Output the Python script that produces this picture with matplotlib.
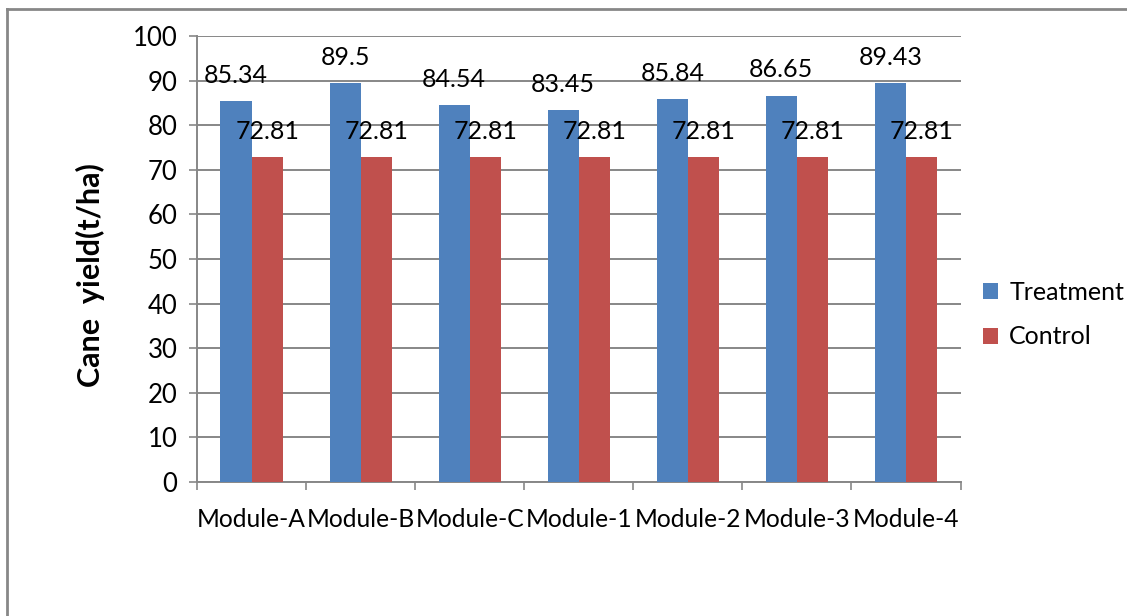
import numpy as np
import matplotlib
matplotlib.use("Agg")
import matplotlib.pyplot as plt
from matplotlib.lines import Line2D

modules = ["Module-A", "Module-B", "Module-C", "Module-1", "Module-2", "Module-3", "Module-4"]
treatment = [85.34, 89.5, 84.54, 83.45, 85.84, 86.65, 89.43]
control = [72.81, 72.81, 72.81, 72.81, 72.81, 72.81, 72.81]
y_ticks = [0, 10, 20, 30, 40, 50, 60, 70, 80, 90, 100]

plt.rcParams["font.family"] = ["Lato", "DejaVu Sans"]
grey = "#878787"
fs = 18

fig = plt.figure(figsize=(11.27, 6.16), dpi=100)
ax = fig.add_axes([197 / 1127, 1 - 482 / 616, (960.5 - 197) / 1127, (482 - 36) / 616])

x = np.arange(len(modules))
w = 0.285
b1 = ax.bar(x - w / 2, treatment, w, color="#4F81BD", label="Treatment", zorder=3)
b2 = ax.bar(x + w / 2, control, w, color="#C0504D", label="Control", zorder=3)

# value labels sit a little above each bar
for bars, vals in ((b1, treatment), (b2, control)):
    for rect, v in zip(bars, vals):
        ax.annotate(f"{v:g}", (rect.get_x() + rect.get_width() / 2, v),
                    xytext=(0, 13), textcoords="offset points",
                    ha="center", va="baseline", fontsize=fs, zorder=4)

ax.set_ylim(0, 100)
ax.set_xlim(-0.5, len(modules) - 0.5)
ax.set_yticks(y_ticks)
ax.yaxis.grid(True, color=grey, linewidth=1.4, zorder=0)
ax.tick_params(axis="y", length=6, width=1.2, color=grey, labelsize=fs + 0.5, pad=8)

# category separators as major ticks, names on minor ticks
ax.set_xticks(np.arange(-0.5, len(modules), 1.0))
ax.set_xticklabels([])
ax.set_xticks(x, minor=True)
ax.set_xticklabels(modules, minor=True, fontsize=fs - 0.3)
ax.tick_params(axis="x", which="major", length=6, width=1.2, color=grey)
ax.tick_params(axis="x", which="minor", length=0, pad=19)

for s in ("top", "right"):
    ax.spines[s].set_visible(False)
for s in ("left", "bottom"):
    ax.spines[s].set_color(grey)
    ax.spines[s].set_linewidth(1.4)

ax.set_ylabel("Cane  yield(t/ha)", fontsize=22, fontweight="bold",
              family=["Liberation Sans Narrow", "Lato", "DejaVu Sans"], labelpad=20)
ax.yaxis.label.set_y(0.465)

ax.legend(loc="center left", bbox_to_anchor=(1.0, 0.375), frameon=False, fontsize=fs,
          handlelength=0.6, handleheight=0.6, handletextpad=0.45, labelspacing=0.85)

# outer chart border
fig.add_artist(Line2D([7 / 1127, 7 / 1127], [0, 1 - 9 / 616], color=grey, linewidth=2))
fig.add_artist(Line2D([7 / 1127, 1], [1 - 9 / 616, 1 - 9 / 616], color=grey, linewidth=2))

fig.savefig("out.png", dpi=100)
